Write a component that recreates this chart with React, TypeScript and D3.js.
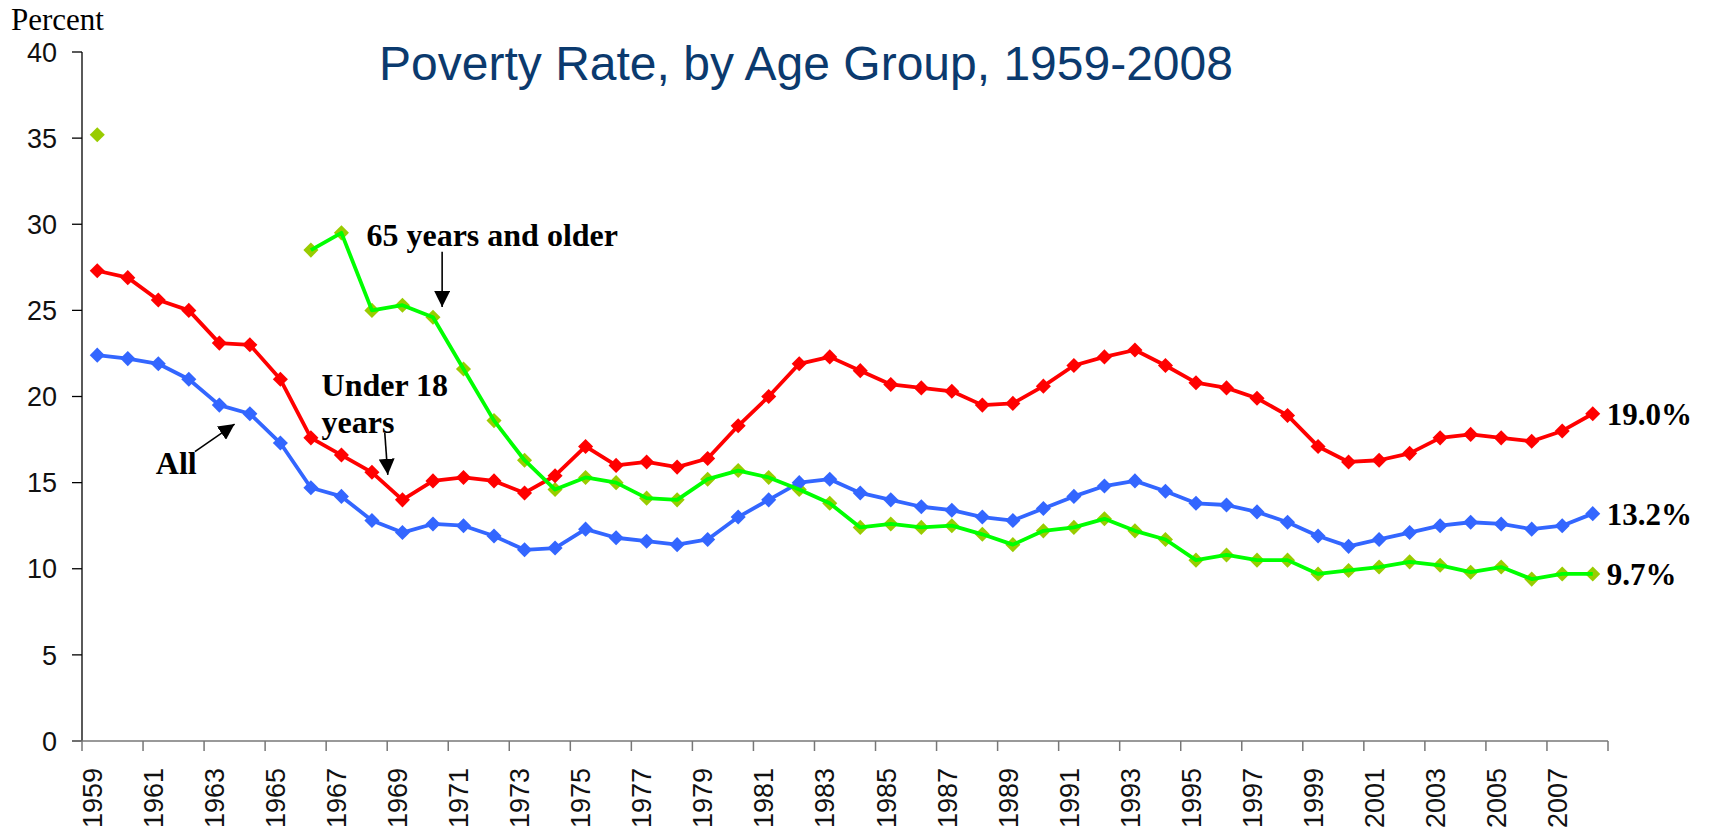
import * as d3 from 'd3'
import { useRef, useEffect } from 'react'

const W = 1709, H = 830
const M = { top: 52, right: 101, bottom: 89, left: 82 }

const YEARS = d3.range(1959, 2009)

// Poverty rate (percent)
const ALL = [
  22.4, 22.2, 21.9, 21.0, 19.5, 19.0, 17.3, 14.7, 14.2, 12.8,
  12.1, 12.6, 12.5, 11.9, 11.1, 11.2, 12.3, 11.8, 11.6, 11.4,
  11.7, 13.0, 14.0, 15.0, 15.2, 14.4, 14.0, 13.6, 13.4, 13.0,
  12.8, 13.5, 14.2, 14.8, 15.1, 14.5, 13.8, 13.7, 13.3, 12.7,
  11.9, 11.3, 11.7, 12.1, 12.5, 12.7, 12.6, 12.3, 12.5, 13.2,
]
const UNDER18 = [
  27.3, 26.9, 25.6, 25.0, 23.1, 23.0, 21.0, 17.6, 16.6, 15.6,
  14.0, 15.1, 15.3, 15.1, 14.4, 15.4, 17.1, 16.0, 16.2, 15.9,
  16.4, 18.3, 20.0, 21.9, 22.3, 21.5, 20.7, 20.5, 20.3, 19.5,
  19.6, 20.6, 21.8, 22.3, 22.7, 21.8, 20.8, 20.5, 19.9, 18.9,
  17.1, 16.2, 16.3, 16.7, 17.6, 17.8, 17.6, 17.4, 18.0, 19.0,
]
const OVER65 = [
  35.2, null, null, null, null, null, null, 28.5, 29.5, 25.0,
  25.3, 24.6, 21.6, 18.6, 16.3, 14.6, 15.3, 15.0, 14.1, 14.0,
  15.2, 15.7, 15.3, 14.6, 13.8, 12.4, 12.6, 12.4, 12.5, 12.0,
  11.4, 12.2, 12.4, 12.9, 12.2, 11.7, 10.5, 10.8, 10.5, 10.5,
  9.7, 9.9, 10.1, 10.4, 10.2, 9.8, 10.1, 9.4, 9.7, 9.7,
]

const Y_TICKS = [0, 5, 10, 15, 20, 25, 30, 35, 40]
const X_LABELS = YEARS.filter((y) => (y - 1959) % 2 === 0)

// annotations in data space: [year, percent]
const NOTES = [
  { text: '65 years and older', at: [1967.82, 28.75] },
  { text: 'Under 18', at: [1966.35, 20.05] },
  { text: 'years', at: [1966.35, 17.9] },
  { text: 'All', at: [1960.92, 15.5] },
]
const ARROWS = [
  { from: [1970.3, 28.4], to: [1970.3, 25.2] },
  { from: [1968.42, 17.9], to: [1968.52, 15.45] },
  { from: [1962.2, 16.8], to: [1963.5, 18.4] },
]

const SERIES = [
  { name: 'All', values: ALL, line: '#3366FF', mark: '#3366FF', end: '13.2%' },
  { name: 'Under 18', values: UNDER18, line: '#FF0000', mark: '#FF0000', end: '19.0%' },
  { name: '65+', values: OVER65, line: '#00FF00', mark: '#99CC00', end: '9.7%' },
]

const SERIF = '"Liberation Serif", "Times New Roman", serif'
const SANS = '"Liberation Sans", Arial, sans-serif'

export default function App() {
  const svgRef = useRef<SVGSVGElement>(null)

  useEffect(() => {
    const svg = d3.select(svgRef.current)
    svg.selectAll('*').remove()

    const x0 = M.left, x1 = W - M.right
    const xSc = d3.scaleLinear().domain([1958.5, 2008.5]).range([x0, x1])
    const ySc = d3.scaleLinear().domain([0, 40]).range([H - M.bottom, M.top])

    const defs = svg.append('defs')
    defs.append('marker').attr('id', 'arrowhead').attr('viewBox', '0 0 10 10')
      .attr('refX', 10).attr('refY', 5).attr('markerWidth', 16).attr('markerHeight', 16)
      .attr('markerUnits', 'userSpaceOnUse').attr('orient', 'auto')
      .append('path').attr('d', 'M0,0 L10,5 L0,10 Z').attr('fill', '#000')

    // y axis
    svg.append('line').attr('x1', x0).attr('x2', x0).attr('y1', ySc(40)).attr('y2', ySc(0))
      .attr('stroke', '#000').attr('stroke-width', 1.3)
    Y_TICKS.forEach((t) => {
      svg.append('line').attr('x1', x0 - 10).attr('x2', x0).attr('y1', ySc(t)).attr('y2', ySc(t))
        .attr('stroke', '#000').attr('stroke-width', 1.3)
      svg.append('text').attr('x', x0 - 25).attr('y', ySc(t)).attr('dy', '0.36em')
        .attr('text-anchor', 'end').attr('font-family', SANS).attr('font-size', 27).attr('fill', '#111')
        .text(t)
    })

    // x axis
    svg.append('line').attr('x1', x0 - 10).attr('x2', x1).attr('y1', ySc(0)).attr('y2', ySc(0))
      .attr('stroke', '#777').attr('stroke-width', 1.5)
    d3.range(1958.5, 2009, 2).forEach((b) => {
      svg.append('line').attr('x1', xSc(b)).attr('x2', xSc(b)).attr('y1', ySc(0)).attr('y2', ySc(0) + 10)
        .attr('stroke', '#777').attr('stroke-width', 1.5)
    })
    X_LABELS.forEach((yr) => {
      svg.append('text')
        .attr('transform', `translate(${xSc(yr) - 5},${ySc(0) + 27}) rotate(-90)`)
        .attr('dy', '0.36em').attr('text-anchor', 'end')
        .attr('font-family', SANS).attr('font-size', 27).attr('fill', '#111')
        .text(yr)
    })

    const line = d3.line<number | null>()
      .defined((d) => d != null)
      .x((_, i) => xSc(YEARS[i]))
      .y((d) => ySc(d as number))

    const diamond = d3.symbol().type(d3.symbolDiamond2).size(145)

    const drawMarks = (s: typeof SERIES[number]) => {
      svg.append('g').selectAll('path').data(s.values.map((v, i) => [YEARS[i], v]).filter((d) => d[1] != null))
        .join('path')
        .attr('transform', (d) => `translate(${xSc(d[0] as number)},${ySc(d[1] as number)})`)
        .attr('d', diamond).attr('fill', s.mark)
    }
    const drawLine = (s: typeof SERIES[number]) => {
      svg.append('path').datum(s.values).attr('fill', 'none').attr('stroke', s.line)
        .attr('stroke-width', 3.8).attr('stroke-linejoin', 'round').attr('d', line)
    }

    // 65+ markers first, its line on top of them
    drawMarks(SERIES[2])
    drawLine(SERIES[0]); drawMarks(SERIES[0])
    drawLine(SERIES[1]); drawMarks(SERIES[1])
    drawLine(SERIES[2])

    // end labels
    SERIES.forEach((s) => {
      const last = s.values[s.values.length - 1] as number
      svg.append('text').attr('x', xSc(2008) + 14).attr('y', ySc(last)).attr('dy', '0.36em')
        .attr('font-family', SERIF).attr('font-weight', 'bold').attr('font-size', 31).attr('fill', '#000')
        .text(s.end)
    })

    // annotations
    NOTES.forEach((n) => {
      svg.append('text').attr('x', xSc(n.at[0])).attr('y', ySc(n.at[1]))
        .attr('font-family', SERIF).attr('font-weight', 'bold').attr('font-size', 32).attr('fill', '#000')
        .text(n.text)
    })
    ARROWS.forEach((a) => {
      svg.append('line')
        .attr('x1', xSc(a.from[0])).attr('y1', ySc(a.from[1]))
        .attr('x2', xSc(a.to[0])).attr('y2', ySc(a.to[1]))
        .attr('stroke', '#000').attr('stroke-width', 1.6).attr('marker-end', 'url(#arrowhead)')
    })

    // axis title and chart title
    svg.append('text').attr('x', 11).attr('y', 30).attr('font-family', SERIF).attr('font-size', 31)
      .attr('fill', '#000').text('Percent')
    svg.append('text').attr('x', 806).attr('y', 80).attr('text-anchor', 'middle')
      .attr('font-family', SANS).attr('font-size', 48).attr('fill', '#0B3A6E')
      .text('Poverty Rate, by Age Group, 1959-2008')
  }, [])

  return (
    <svg ref={svgRef} width={W} height={H} viewBox={`0 0 ${W} ${H}`}
      style={{ position: 'absolute', left: 0, top: 0, background: '#fff' }} />
  )
}
